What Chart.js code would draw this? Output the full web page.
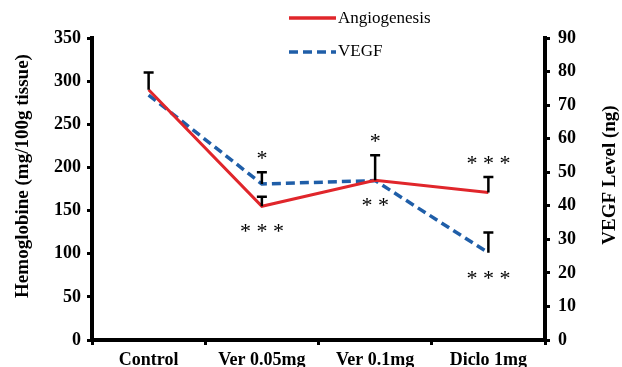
<!DOCTYPE html>
<html>
<head>
<meta charset="utf-8">
<script src="https://cdn.jsdelivr.net/npm/chart.js@4.4.1/dist/chart.umd.min.js"></script>
<style>
  html, body { margin: 0; padding: 0; background: #fff; }
  #wrap { width: 622px; height: 367px; }
</style>
</head>
<body>
<div id="wrap"><canvas id="myChart" width="622" height="367"></canvas></div>
<script>
// chart data
var categories = ['Control', 'Ver 0.05mg', 'Ver 0.1mg', 'Diclo 1mg'];
var angiogenesis = [290, 155, 185, 171];
var angioErr = [20, 11, 29, 18];
var vegf = [73, 46.5, 47.5, 26];
var vegfErr = [0, 3.5, 0, 6];
var sigAbove = ['', '*', '*', '* * *'];
var sigBelow = ['', '* * *', '* *', '* * *'];
var leftTicks = [0, 350, 50];
var rightTicks = [0, 90, 10];
var leftTitle = 'Hemoglobine (mg/100g tissue)';
var rightTitle = 'VEGF Level (ng)';

var serif = "'Liberation Serif', 'Times New Roman', serif";
var red = '#e0262b';
var blue = '#1f5ea8';

// error bars (upward only, with caps)
var errorBars = {
  id: 'errorBars',
  afterDatasetsDraw: function(chart) {
    var ctx = chart.ctx;
    var x = chart.scales.x;
    var sets = [[angiogenesis, angioErr, chart.scales.y], [vegf, vegfErr, chart.scales.y1]];
    ctx.save();
    ctx.strokeStyle = '#000';
    ctx.lineWidth = 2.5;
    sets.forEach(function(s) {
      s[0].forEach(function(v, i) {
        if (!s[1][i]) return;
        var px = x.getPixelForValue(i);
        var y0 = s[2].getPixelForValue(v);
        var y1 = s[2].getPixelForValue(v + s[1][i]);
        ctx.beginPath();
        ctx.moveTo(px, y0);
        ctx.lineTo(px, y1);
        ctx.moveTo(px - 5, y1);
        ctx.lineTo(px + 5, y1);
        ctx.stroke();
      });
    });
    ctx.restore();
  }
};

// significance stars
var stars = {
  id: 'stars',
  afterDatasetsDraw: function(chart) {
    var ctx = chart.ctx;
    var x = chart.scales.x, y = chart.scales.y, y1 = chart.scales.y1;
    ctx.save();
    ctx.fillStyle = '#000';
    ctx.font = '22px ' + serif;
    ctx.textAlign = 'center';
    ctx.textBaseline = 'middle';
    categories.forEach(function(c, i) {
      var px = x.getPixelForValue(i);
      var tops = [y.getPixelForValue(angiogenesis[i] + angioErr[i]), y1.getPixelForValue(vegf[i] + vegfErr[i])];
      var bots = [y.getPixelForValue(angiogenesis[i]), y1.getPixelForValue(vegf[i])];
      if (sigAbove[i]) ctx.fillText(sigAbove[i], px, Math.min.apply(null, tops) - 13);
      if (sigBelow[i]) ctx.fillText(sigBelow[i], px, Math.max.apply(null, bots) + 26);
    });
    ctx.restore();
  }
};

// legend and axis titles drawn by hand
var extras = {
  id: 'extras',
  afterDraw: function(chart) {
    var ctx = chart.ctx;
    ctx.save();
    ctx.lineWidth = 3.5;
    ctx.strokeStyle = red;
    ctx.beginPath(); ctx.moveTo(289, 18); ctx.lineTo(336, 18); ctx.stroke();
    ctx.strokeStyle = blue;
    ctx.setLineDash([9, 5]);
    ctx.beginPath(); ctx.moveTo(289, 52); ctx.lineTo(336, 52); ctx.stroke();
    ctx.setLineDash([]);
    ctx.fillStyle = '#000';
    ctx.font = '17px ' + serif;
    ctx.textBaseline = 'middle';
    ctx.fillText('Angiogenesis', 338, 19);
    ctx.fillText('VEGF', 338, 52);

    // rotated titles, both reading upwards
    ctx.font = 'bold 19px ' + serif;
    ctx.textAlign = 'center';
    ctx.translate(23, 176);
    ctx.rotate(-Math.PI / 2);
    ctx.fillText(leftTitle, 0, 0);
    ctx.setTransform(1, 0, 0, 1, 0, 0);
    ctx.translate(610, 175);
    ctx.rotate(-Math.PI / 2);
    ctx.fillText(rightTitle, 0, 0);
    ctx.restore();
  }
};

var ctx = document.getElementById('myChart');
var myChart = new Chart(ctx, {
  type: 'line',
  data: {
    labels: categories,
    datasets: [{
      label: 'Angiogenesis',
      data: angiogenesis,
      borderColor: red,
      borderWidth: 3,
      pointRadius: 0,
      yAxisID: 'y'
    }, {
      label: 'VEGF',
      data: vegf,
      borderColor: blue,
      borderWidth: 3.5,
      borderDash: [9, 5],
      pointRadius: 0,
      yAxisID: 'y1'
    }]
  },
  options: {
    responsive: false,
    animation: false,
    layout: { padding: { top: 38 } },
    plugins: {
      legend: { display: false },
      tooltip: { enabled: false }
    },
    scales: {
      x: {
        offset: true,
        grid: { display: true, drawOnChartArea: false, offset: true, color: '#000', lineWidth: 3, tickLength: 5 },
        border: { color: '#000', width: 4 },
        ticks: { color: '#000', font: { family: serif, size: 18, weight: 'bold' }, padding: 5, maxRotation: 0 },
        afterFit: function(s) { s.height = 27; }
      },
      y: {
        position: 'left',
        min: leftTicks[0], max: leftTicks[1],
        ticks: { stepSize: leftTicks[2], color: '#000', font: { family: serif, size: 18, weight: 'bold' }, padding: 6 },
        grid: { drawOnChartArea: false, color: '#000', lineWidth: 3, tickLength: 5 },
        border: { color: '#000', width: 4 },
        afterFit: function(s) { s.width = 92; }
      },
      y1: {
        position: 'right',
        min: rightTicks[0], max: rightTicks[1],
        ticks: { stepSize: rightTicks[2], color: '#000', font: { family: serif, size: 18, weight: 'bold' }, padding: 8 },
        grid: { drawOnChartArea: false, color: '#000', lineWidth: 3, tickLength: 5 },
        border: { color: '#000', width: 4 },
        afterFit: function(s) { s.width = 77; }
      }
    }
  },
  plugins: [errorBars, stars, extras]
});
</script>
</body>
</html>
